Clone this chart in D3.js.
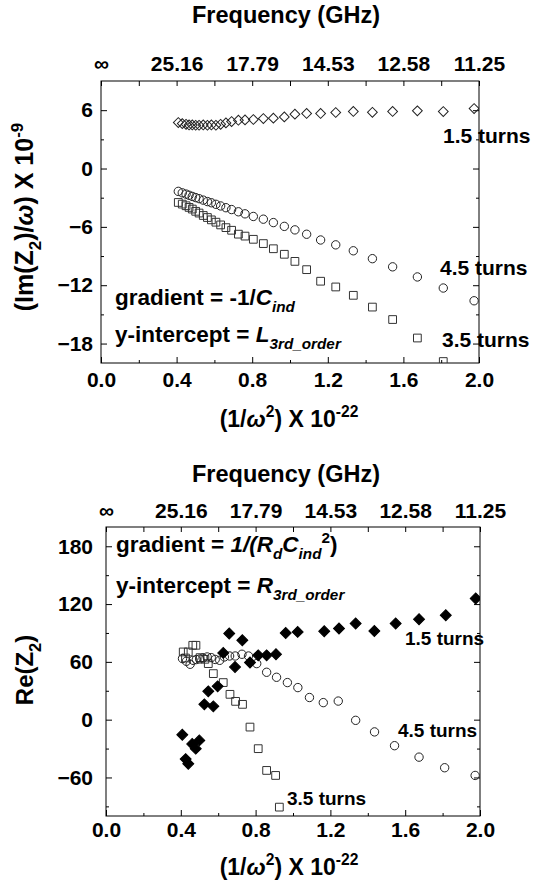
<!DOCTYPE html>
<html><head><meta charset="utf-8">
<script src="https://cdn.jsdelivr.net/npm/d3@7"></script>
<style>
body{margin:0;background:#fff}
svg{display:block}
text{font-family:"Liberation Sans",Arial,sans-serif;font-weight:bold;fill:#000}
</style>
</head><body>
<svg id="chart" width="535" height="886"></svg>
<script>
// ---------- DATA ----------
// x = (1/omega^2) x 1e-22, shared frequency points
const freqX = [0.409,0.430,0.450,0.466,0.483,0.501,0.519,0.541,0.563,0.584,0.608,0.633,0.661,0.691,0.727,0.762,0.806,0.859,0.912,0.970,1.026,1.088,1.162,1.242,1.335,1.436,1.543,1.674,1.811,1.974];
// Top panel: Im(Z2)/omega x 1e-9
const im15turns = [4.73,4.62,4.55,4.48,4.48,4.45,4.45,4.48,4.45,4.48,4.45,4.55,4.69,4.83,4.97,5.00,5.04,5.14,5.18,5.31,5.59,5.66,5.66,5.76,5.87,5.78,5.87,5.93,5.86,6.17];
const im45turns = [-2.35,-2.50,-2.63,-2.75,-2.87,-2.99,-3.10,-3.25,-3.40,-3.52,-3.68,-3.85,-4.03,-4.22,-4.45,-4.66,-4.93,-5.21,-5.56,-5.95,-6.31,-6.76,-7.35,-7.85,-8.46,-9.27,-10.11,-11.15,-12.29,-13.60];
const im35turns = [-3.49,-3.66,-3.83,-4.00,-4.17,-4.40,-4.58,-4.83,-5.04,-5.28,-5.52,-5.80,-6.08,-6.35,-6.75,-6.95,-7.28,-7.72,-8.25,-8.82,-9.55,-10.40,-11.59,-12.18,-13.04,-14.25,-15.53,-17.43,-19.85];
// Bottom panel: Re(Z2)
const re45turns = [63.4,60.6,57.5,61.6,62.4,63.0,64.0,65.1,64.4,62.5,61.6,65.1,66.1,66.1,67.9,66.1,58.2,49.2,44.0,38.5,33.3,23.0,17.7,19.3,-0.7,-12.7,-27.0,-38.9,-49.9,-57.9];
const re35X = [0.413,0.425,0.440,0.464,0.481,0.503,0.529,0.547,0.574,0.627,0.663,0.693,0.730,0.770,0.814,0.859,0.907,0.927];
const re35turns = [70.3,64.0,70.3,77.2,77.2,64.4,62.7,58.2,47.8,38.5,26.3,19.0,15.9,-7.7,-30.1,-52.7,-57.9,-90.8];
const re15X = [0.408,0.426,0.440,0.461,0.480,0.499,0.526,0.547,0.574,0.597,0.627,0.659,0.690,0.729,0.770,0.814,0.859,0.909,0.961,1.025,1.167,1.246,1.335,1.435,1.549,1.674,1.817,1.977];
const re15turns = [-15.6,-40.9,-45.7,-25.3,-30.1,-21.5,15.9,29.4,13.8,34.6,69.3,89.4,54.7,82.4,59.3,66.8,66.8,67.9,90.0,91.1,91.8,94.6,99.8,92.1,99.8,104.3,108.4,125.8];
// Ticks
const xMajor = [0,0.4,0.8,1.2,1.6,2.0];
const xMinor = [0.2,0.6,1.0,1.4,1.8];
const freqLabels = ["\u221E","25.16","17.79","14.53","12.58","11.25"];
const imMajor = [-18,-12,-6,0,6];
const imMinor = [-15,-9,-3,3];
const reMajor = [-60,0,60,120,180];
const reMinor = [-90,-30,30,90,150];

// ---------- DRAW ----------
const svg = d3.select("#chart");

function rich(sel, x, y, parts, fs, anchor, rot){
  const t = sel.append("text").attr("x",x).attr("y",y).attr("font-size",fs)
    .attr("text-anchor",anchor||"start");
  if(rot) t.attr("transform",`rotate(${rot},${x},${y})`);
  let cur = 0;
  parts.forEach(p=>{
    const s = t.append("tspan").text(p.t);
    const off = p.sub ? fs*0.32 : p.sup ? -fs*0.42 : 0;
    s.attr("dy", off-cur); cur = off;
    if(p.i) s.attr("font-style","italic");
    if(p.sub||p.sup) s.attr("font-size", fs*0.68);
  });
  return t;
}

function panel(cfg){
  const g = svg.append("g");
  const x = d3.scaleLinear().domain([0,2]).range([cfg.left,cfg.right]);
  const y = d3.scaleLinear().domain(cfg.yDomain).range([cfg.bottom,cfg.top]);
  const id = "clip"+cfg.name;
  svg.append("defs").append("clipPath").attr("id",id).append("rect")
    .attr("x",cfg.left).attr("y",cfg.top).attr("width",cfg.right-cfg.left).attr("height",cfg.bottom-cfg.top);

  const fs = 21;
  function styleAxis(a){
    a.select(".domain").remove();
    a.selectAll("line").attr("stroke","#000").attr("stroke-width",1);
    a.selectAll("text").attr("font-size",fs).attr("font-family",null);
  }
  g.append("g").attr("transform",`translate(0,${cfg.bottom})`)
    .call(d3.axisBottom(x).tickValues(xMajor).tickSize(-6).tickPadding(cfg.bPad).tickFormat(d3.format(".1f"))).call(styleAxis);
  g.append("g").attr("transform",`translate(0,${cfg.bottom})`)
    .call(d3.axisBottom(x).tickValues(xMinor).tickSize(-3).tickFormat("")).call(styleAxis);
  g.append("g").attr("transform",`translate(0,${cfg.top})`)
    .call(d3.axisTop(x).tickValues(xMajor).tickSize(-5).tickPadding(cfg.tPad).tickFormat((d,i)=>freqLabels[i])).call(styleAxis);
  g.append("g").attr("transform",`translate(0,${cfg.top})`)
    .call(d3.axisTop(x).tickValues(xMinor).tickSize(-5).tickFormat("")).call(styleAxis);
  g.append("g").attr("transform",`translate(${cfg.left},0)`)
    .call(d3.axisLeft(y).tickValues(cfg.yMajor).tickSize(-6).tickPadding(cfg.lPad).tickFormat(d3.format("d"))).call(styleAxis);
  g.append("g").attr("transform",`translate(${cfg.left},0)`)
    .call(d3.axisLeft(y).tickValues(cfg.yMinor).tickSize(-3).tickFormat("")).call(styleAxis);
  g.append("g").attr("transform",`translate(${cfg.right},0)`)
    .call(d3.axisRight(y).tickValues(cfg.yMajor).tickSize(-6).tickFormat("")).call(styleAxis);
  g.append("g").attr("transform",`translate(${cfg.right},0)`)
    .call(d3.axisRight(y).tickValues(cfg.yMinor).tickSize(-3).tickFormat("")).call(styleAxis);
  g.append("rect").attr("x",cfg.left).attr("y",cfg.top).attr("width",cfg.right-cfg.left)
    .attr("height",cfg.bottom-cfg.top).attr("fill","none").attr("stroke","#000").attr("stroke-width",1);

  const marks = g.append("g").attr("clip-path",`url(#${id})`);
  cfg.series.forEach(s=>{
    const sym = d3.symbol().type(s.type).size(s.size);
    marks.selectAll(null).data(s.y.map((v,i)=>[s.x[i],v])).join("path")
      .attr("d",sym)
      .attr("transform",d=>`translate(${x(d[0])},${y(d[1])}) rotate(${s.rot||0})`)
      .attr("fill",s.fill).attr("stroke",s.stroke).attr("stroke-width",s.sw||1);
  });
  return {g,x,y};
}

panel({name:"a",left:101,right:479,top:81,bottom:363,yDomain:[-20,9],
  yMajor:imMajor,yMinor:imMinor,bPad:9,tPad:10,lPad:8,
  series:[
    {x:freqX,y:im15turns,type:d3.symbolSquare,size:48,rot:45,fill:"none",stroke:"#222"},
    {x:freqX,y:im45turns,type:d3.symbolCircle,size:55,fill:"none",stroke:"#222"},
    {x:freqX,y:im35turns,type:d3.symbolSquare,size:60,fill:"none",stroke:"#333"}
  ]});

panel({name:"b",left:106,right:480,top:527,bottom:816,yDomain:[-100,200],
  yMajor:reMajor,yMinor:reMinor,bPad:6,tPad:9,lPad:13,
  series:[
    {x:re35X,y:re35turns,type:d3.symbolSquare,size:60,fill:"none",stroke:"#333"},
    {x:freqX,y:re45turns,type:d3.symbolCircle,size:55,fill:"none",stroke:"#222"},
    {x:re15X,y:re15turns,type:d3.symbolSquare,size:60,rot:45,fill:"#000",stroke:"#000"}
  ]});

// titles
svg.append("text").attr("x",286).attr("y",23).attr("text-anchor","middle").attr("font-size",23.5).text("Frequency (GHz)");
svg.append("text").attr("x",286).attr("y",482).attr("text-anchor","middle").attr("font-size",23.5).text("Frequency (GHz)");
const xt = [{t:"(1/"},{t:"\u03C9",i:1},{t:"2",sup:1},{t:") X 10"},{t:"-22",sup:1}];
rich(svg,289,427,xt,23,"middle");
rich(svg,289,875,xt,23,"middle");
rich(svg,33,217,[{t:"(Im(Z"},{t:"2",sub:1},{t:")/"},{t:"\u03C9",i:1},{t:") X 10"},{t:"-9",sup:1}],25,"middle",-90);
rich(svg,33,670,[{t:"Re(Z"},{t:"2",sub:1},{t:")"}],24,"middle",-90);

// annotations top
rich(svg,115,305,[{t:"gradient = -1/"},{t:"C",i:1},{t:"ind",i:1,sub:1}],22.5);
rich(svg,115,342,[{t:"y-intercept = "},{t:"L",i:1},{t:"3rd_order",i:1,sub:1}],22.5);
svg.append("text").attr("x",443).attr("y",143).attr("font-size",21).text("1.5 turns");
svg.append("text").attr("x",440).attr("y",275).attr("font-size",21).text("4.5 turns");
svg.append("text").attr("x",442).attr("y",347).attr("font-size",21).text("3.5 turns");
// annotations bottom
rich(svg,116,552,[{t:"gradient = "},{t:"1/(R",i:1},{t:"d",i:1,sub:1},{t:"C",i:1},{t:"ind",i:1,sub:1},{t:"2",sup:1},{t:")"}],22.5);
rich(svg,116,593,[{t:"y-intercept = "},{t:"R",i:1},{t:"3rd_order",i:1,sub:1}],22.5);
svg.append("text").attr("x",405).attr("y",645).attr("font-size",19).text("1.5 turns");
svg.append("text").attr("x",398).attr("y",737).attr("font-size",19).text("4.5 turns");
svg.append("text").attr("x",287).attr("y",805).attr("font-size",19).text("3.5 turns");
</script>
</body></html>
